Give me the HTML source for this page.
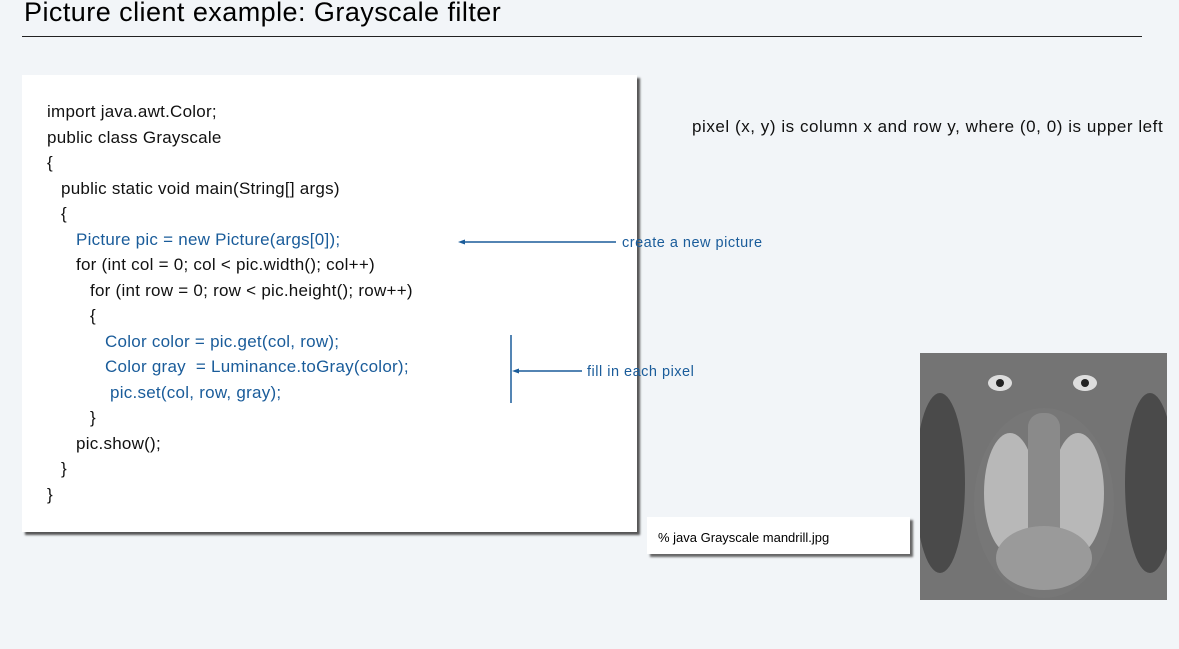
<!DOCTYPE html>
<html><head><style>
body{margin:0;width:1179px;height:649px;background:#f2f5f8;position:relative;overflow:hidden;font-family:"Liberation Sans",sans-serif}
.t{position:absolute;left:24px;top:-3px;font-size:27px;color:#000;letter-spacing:0.45px}
.hr{position:absolute;left:22px;top:36px;width:1120px;height:1px;background:#222}
.code{position:absolute;left:22px;top:75px;width:615px;height:457px;background:#fff;box-shadow:3px 3px 2px #555}
.l{position:absolute;font-size:17px;white-space:pre;color:#111;letter-spacing:0.25px}
.b{color:#1a5c9a}
.lab{position:absolute;font-size:14.5px;color:#1a5c9a;white-space:nowrap;letter-spacing:0.5px}
.cmd{position:absolute;left:647px;top:517px;width:263px;height:37px;background:#fff;box-shadow:3px 3px 2px #666;font-size:13px}
</style></head><body>
<div class="t">Picture client example: Grayscale filter</div>
<div class="hr"></div>
<div class="code">
<div class="l" style="left:25px;top:27px">import java.awt.Color;</div>
<div class="l" style="left:25px;top:53px">public class Grayscale</div>
<div class="l" style="left:25px;top:78px">{</div>
<div class="l" style="left:39px;top:104px">public static void main(String[] args)</div>
<div class="l" style="left:39px;top:129px">{</div>
<div class="l b" style="left:54px;top:155px">Picture pic = new Picture(args[0]);</div>
<div class="l" style="left:54px;top:180px">for (int col = 0; col &lt; pic.width(); col++)</div>
<div class="l" style="left:68px;top:206px">for (int row = 0; row &lt; pic.height(); row++)</div>
<div class="l" style="left:68px;top:231px">{</div>
<div class="l b" style="left:83px;top:257px">Color color = pic.get(col, row);</div>
<div class="l b" style="left:83px;top:282px">Color gray  = Luminance.toGray(color);</div>
<div class="l b" style="left:88px;top:308px">pic.set(col, row, gray);</div>
<div class="l" style="left:68px;top:333px">}</div>
<div class="l" style="left:54px;top:359px">pic.show();</div>
<div class="l" style="left:39px;top:384px">}</div>
<div class="l" style="left:25px;top:410px">}</div>
</div>
<svg style="position:absolute;left:0;top:0" width="1179" height="649">
<line x1="462" y1="242" x2="616" y2="242" stroke="#1a5c9a" stroke-width="1.5"/>
<polygon points="458,242 465,239.5 465,244.5" fill="#1a5c9a"/>
<line x1="511" y1="335" x2="511" y2="403" stroke="#1a5c9a" stroke-width="1.5"/>
<line x1="516" y1="371" x2="582" y2="371" stroke="#1a5c9a" stroke-width="1.5"/>
<polygon points="512,371 519,368.5 519,373.5" fill="#1a5c9a"/>
</svg>
<div class="lab" style="left:622px;top:235px">create a new picture</div>
<div class="lab" style="left:587px;top:364px">fill in each pixel</div>
<div style="position:absolute;left:692px;top:117px;font-size:17px;color:#111;letter-spacing:0.55px;white-space:nowrap">pixel (x, y) is column x and row y, where (0, 0) is upper left</div>
<div class="cmd"><span style="position:absolute;left:11px;top:13px">% java Grayscale mandrill.jpg</span></div>
<svg style="position:absolute;left:920px;top:353px" width="247" height="247">
<rect width="247" height="247" fill="#6a6a6a"/>
<rect width="247" height="247" fill="#8a8a8a" opacity=".3"/>
<ellipse cx="124" cy="150" rx="70" ry="95" fill="#777"/>
<ellipse cx="90" cy="140" rx="26" ry="60" fill="#b8b8b8"/>
<ellipse cx="158" cy="140" rx="26" ry="60" fill="#b8b8b8"/>
<rect x="108" y="60" width="32" height="140" rx="14" fill="#8a8a8a"/>
<ellipse cx="124" cy="205" rx="48" ry="32" fill="#9a9a9a"/>
<ellipse cx="80" cy="30" rx="12" ry="8" fill="#ddd"/><circle cx="80" cy="30" r="4" fill="#222"/>
<ellipse cx="165" cy="30" rx="12" ry="8" fill="#ddd"/><circle cx="165" cy="30" r="4" fill="#222"/>
<ellipse cx="20" cy="130" rx="25" ry="90" fill="#4a4a4a"/>
<ellipse cx="230" cy="130" rx="25" ry="90" fill="#4a4a4a"/>
</svg>
</body></html>
